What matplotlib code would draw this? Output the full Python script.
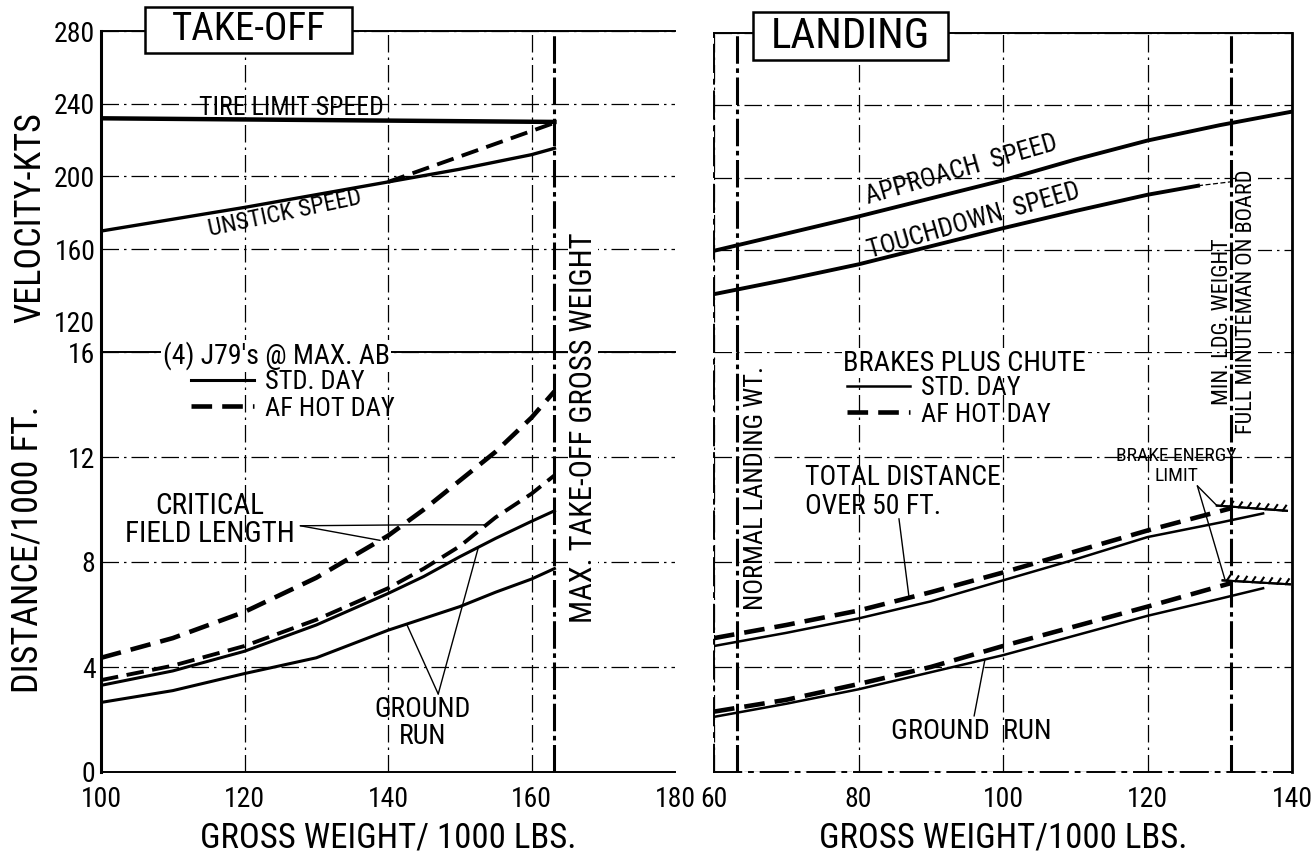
import numpy as np
import matplotlib.pyplot as plt
from matplotlib import patheffects
from matplotlib.patches import Rectangle

plt.rcParams['font.family'] = ['Roboto Condensed', 'DejaVu Sans']
plt.rcParams['font.stretch'] = 'condensed'

# ---------------- take-off ----------------
to_weight = [100, 110, 120, 130, 140, 150, 160, 163.2]
unstick_std = [170, 176.5, 183, 190, 197, 204, 212, 215.5]
hot_weight = [140, 150, 160, 163.2]
unstick_hot = [197, 211, 225, 229.5]
tire_weight = [100, 163.2]
tire_limit = [232, 230]

dist_weight = [100, 110, 120, 130, 140, 145, 150, 155, 160, 163.2]
cfl_hot = [4.35, 5.1, 6.1, 7.4, 9.0, 10.0, 11.1, 12.2, 13.5, 14.5]
run_hot = [3.5, 4.05, 4.8, 5.8, 7.0, 7.75, 8.6, 9.7, 10.6, 11.3]
cfl_std = [3.3, 3.85, 4.6, 5.6, 6.8, 7.45, 8.2, 8.9, 9.55, 9.95]
run_std = [2.65, 3.1, 3.75, 4.35, 5.4, 5.85, 6.3, 6.85, 7.35, 7.75]

max_takeoff = 163.2

# ---------------- landing ----------------
ldg_weight = [60, 70, 80, 90, 100, 110, 120, 130, 140]
approach = [159.5, 169, 178.5, 188.5, 198.5, 210, 220.5, 229, 236.5]
td_weight = [60, 70, 80, 90, 100, 110, 120, 127]
touchdown = [135.5, 143.5, 152, 162, 172, 181.5, 190.5, 195.5]
td_ext_weight = [127, 135.4]
touchdown_ext = [195.5, 199.5]

hot_ldg_weight = [60, 70, 80, 90, 100, 110, 120, 131.6]
total_hot = [5.1, 5.6, 6.15, 6.85, 7.6, 8.4, 9.2, 10.05]
ground_hot = [2.3, 2.75, 3.35, 4.0, 4.8, 5.55, 6.3, 7.2]
std_ldg_weight = [60, 70, 80, 90, 100, 110, 120, 130, 136]
total_std = [4.8, 5.3, 5.85, 6.5, 7.3, 8.1, 8.95, 9.5, 9.85]
ground_std = [2.1, 2.6, 3.15, 3.8, 4.45, 5.2, 5.95, 6.6, 7.0]

brake_weight_total = [129.6, 139.3]
brake_total = [10.15, 9.95]
brake_weight_ground = [130.4, 139.7]
brake_ground = [7.3, 7.15]

normal_landing = 63.2
min_landing = 131.6

W, H = 1312, 857
fig = plt.figure(figsize=(W / 100, H / 100), dpi=100)


def place(x0, y0, x1, y1):
    # pixel box (top-left origin) -> figure fraction rect
    return [x0 / W, 1 - y1 / H, (x1 - x0) / W, (y1 - y0) / H]


grid_ls = (0, (14, 4, 2, 4))
ref_ls = (0, (9, 1.5, 1.5, 1.5))
heavy_dash = (0, (4.5, 2.2))

ax_tv = fig.add_axes(place(101, 31, 675, 352))
ax_td = fig.add_axes(place(101, 352, 675, 772))
ax_lv = fig.add_axes(place(714, 33, 1292, 352))
ax_ld = fig.add_axes(place(714, 352, 1292, 772))

for ax in (ax_tv, ax_td):
    ax.set_xlim(100, 180)
    ax.set_xticks(range(100, 181, 20))
for ax in (ax_lv, ax_ld):
    ax.set_xlim(60, 140)
    ax.set_xticks(range(60, 141, 20))
for ax in (ax_tv, ax_lv):
    ax.set_ylim(103.5, 280)
    ax.set_yticks(range(120, 281, 40))
for ax in (ax_td, ax_ld):
    ax.set_ylim(0, 16)
    ax.set_yticks(range(0, 17, 4))

for ax in (ax_tv, ax_td, ax_lv, ax_ld):
    ax.grid(True, color='black', lw=0.9, ls=grid_ls)
    ax.set_axisbelow(True)
    ax.tick_params(length=0, labelsize=20, pad=4)
    ax.patch.set_alpha(0)
    for s in ax.spines.values():
        s.set_color('black')
        s.set_linewidth(1.4)

ax_tv.tick_params(labelbottom=False)
ax_lv.tick_params(labelbottom=False, labelleft=False)
ax_ld.tick_params(labelleft=False)
ax_td.tick_params(axis='x', pad=10)
ax_ld.tick_params(axis='x', pad=10)

ax_tv.spines[['bottom', 'right']].set_visible(False)
ax_td.spines['right'].set_visible(False)
ax_tv.spines['left'].set_linewidth(2.2)
ax_td.spines['left'].set_linewidth(2.2)
ax_lv.spines['bottom'].set_visible(False)
ax_ld.spines['top'].set_visible(False)
for ax in (ax_lv, ax_ld):
    ax.spines['left'].set_linestyle(grid_ls)
    ax.spines['right'].set_linewidth(2)
ax_ld.spines['bottom'].set_linestyle(grid_ls)

# drop gridlines that sit on the panel edges
ax_tv.get_xgridlines()[-1].set_visible(False)
ax_td.get_xgridlines()[-1].set_visible(False)
ax_tv.get_ygridlines()[0].set_visible(False)
ax_lv.get_ygridlines()[0].set_visible(False)

# ---- take-off velocities ----
ax_tv.plot(tire_weight, tire_limit, color='k', lw=3.2)
ax_tv.plot(to_weight, unstick_std, color='k', lw=2.4)
ax_tv.plot(hot_weight, unstick_hot, color='k', lw=2.8, ls=heavy_dash)
ax_tv.text(126.5, 237.5, 'TIRE LIMIT SPEED', fontsize=18.5, ha='center', va='center')
ax_tv.text(125.6, 179.5, 'UNSTICK SPEED', fontsize=17.5, ha='center', va='center',
           rotation=12)

# ---- take-off distances ----
l_hot, = ax_td.plot(dist_weight, cfl_hot, color='k', lw=3.3, ls=heavy_dash)
ax_td.plot(dist_weight, run_hot, color='k', lw=2.8, ls=heavy_dash)
l_std, = ax_td.plot(dist_weight, cfl_std, color='k', lw=2.2)
ax_td.plot(dist_weight, run_std, color='k', lw=2.2)

for ax in (ax_tv, ax_td):
    ax.axvline(max_takeoff, color='k', lw=2.2, ls=ref_ls)

ax_td.legend([l_std, l_hot], ['STD. DAY', 'AF HOT DAY'], loc='upper left',
             bbox_to_anchor=(0.157, 0.957), frameon=False, fontsize=19,
             handlelength=2.4, handletextpad=0.4, labelspacing=0.1,
             borderaxespad=0, borderpad=0)
ax_td.text(124.4, 15.85, "(4) J79's @ MAX. AB", fontsize=20, ha='center', va='center',
           bbox=dict(fc='white', ec='none', pad=1))

ax_td.text(115.2, 9.6, 'CRITICAL\nFIELD LENGTH', fontsize=21, ha='center', va='center',
           linespacing=1.0)
cfl_from = (127.8, 9.38)
ax_td.annotate('', xy=(138.9, np.interp(138.9, dist_weight, cfl_hot)), xytext=cfl_from,
               arrowprops=dict(arrowstyle='-', lw=1, color='k', shrinkA=0, shrinkB=0))
ax_td.plot([cfl_from[0], 145.1, 153.7],
           [cfl_from[1], 9.42, np.interp(153.7, dist_weight, run_hot)], color='k', lw=1)

ax_td.text(144.8, 1.85, 'GROUND\nRUN', fontsize=20, ha='center', va='center',
           linespacing=1.0)
run_from = (147.0, 2.97)
for wt, curve in ((142.6, run_std), (152.6, cfl_std)):
    ax_td.annotate('', xy=(wt, np.interp(wt, dist_weight, curve)), xytext=run_from,
                   arrowprops=dict(arrowstyle='-', lw=1, color='k', shrinkA=0, shrinkB=0))

# ---- landing velocities ----
ax_lv.plot(ldg_weight, approach, color='k', lw=2.8)
ax_lv.plot(td_weight, touchdown, color='k', lw=2.8)
ax_lv.plot(td_ext_weight, touchdown_ext, color='k', lw=0.9, ls=(0, (4, 2)))
ax_lv.text(94.3, 204, 'APPROACH  SPEED', fontsize=18.5, ha='center', va='center',
           rotation=16)
ax_lv.text(96, 176, 'TOUCHDOWN  SPEED', fontsize=18.5, ha='center', va='center',
           rotation=16)

# ---- landing distances ----
h_hot, = ax_ld.plot(hot_ldg_weight, total_hot, color='k', lw=3.3, ls=heavy_dash)
ax_ld.plot(hot_ldg_weight, ground_hot, color='k', lw=3.3, ls=heavy_dash)
h_std, = ax_ld.plot(std_ldg_weight, total_std, color='k', lw=1.8)
ax_ld.plot(std_ldg_weight, ground_std, color='k', lw=1.8)

ticked = [patheffects.withTickedStroke(angle=60, spacing=6, length=0.7),
          patheffects.Normal()]
ax_ld.plot(brake_weight_total, brake_total, color='k', lw=1.5, path_effects=ticked)
ax_ld.plot(brake_weight_ground, brake_ground, color='k', lw=1.5, path_effects=ticked)

for ax in (ax_lv, ax_ld):
    ax.axvline(normal_landing, color='k', lw=2.2, ls=ref_ls)
    ax.axvline(min_landing, color='k', lw=2.2, ls=ref_ls)

ax_ld.legend([h_std, h_hot], ['STD. DAY', 'AF HOT DAY'], loc='upper left',
             bbox_to_anchor=(0.230, 0.943), frameon=False, fontsize=19,
             handlelength=2.4, handletextpad=0.4, labelspacing=0.1,
             borderaxespad=0, borderpad=0)
ax_ld.text(94.7, 15.58, 'BRAKES PLUS CHUTE', fontsize=20.5, ha='center', va='center',
           bbox=dict(fc='white', ec='none', pad=1))

ax_ld.text(72.6, 10.65, 'TOTAL DISTANCE\nOVER 50 FT.', fontsize=20, ha='left', va='center',
           linespacing=1.1)
ax_ld.annotate('', xy=(87.0, np.interp(87.0, hot_ldg_weight, total_hot)), xytext=(85.6, 9.65),
               arrowprops=dict(arrowstyle='-', lw=1, color='k', shrinkA=0, shrinkB=0))

ax_ld.text(95.6, 1.55, 'GROUND  RUN', fontsize=20.5, ha='center', va='center')
ax_ld.annotate('', xy=(97.5, np.interp(97.5, std_ldg_weight, ground_std)), xytext=(96.0, 2.13),
               arrowprops=dict(arrowstyle='-', lw=1, color='k', shrinkA=0, shrinkB=0))

ax_ld.text(124.0, 11.65, 'BRAKE ENERGY\nLIMIT', fontsize=14, ha='center', va='center',
           linespacing=1.1)
for wt, val in ((brake_weight_total[0], brake_total[0]),
                (brake_weight_ground[0] + 0.3, brake_ground[0] + 0.05)):
    ax_ld.annotate('', xy=(wt, val), xytext=(126.9, 10.9),
                   arrowprops=dict(arrowstyle='-', lw=1, color='k', shrinkA=0, shrinkB=0))

# ---- axis titles and boxed panel names ----
fig.text(30 / W, 1 - 218 / H, 'VELOCITY-KTS', fontsize=26, rotation=90,
         ha='center', va='center')
fig.text(28 / W, 1 - 549 / H, 'DISTANCE/1000 FT.', fontsize=26, rotation=90,
         ha='center', va='center')
ax_td.set_xlabel('GROSS WEIGHT/ 1000 LBS.', fontsize=25, labelpad=6)
ax_ld.set_xlabel('GROSS WEIGHT/1000 LBS.', fontsize=25, labelpad=6)

fig.text(583 / W, 1 - 428 / H, 'MAX. TAKE-OFF GROSS WEIGHT', fontsize=22, rotation=90,
         ha='center', va='center', bbox=dict(fc='white', ec='none', pad=0.5))
fig.text(756 / W, 1 - 488 / H, 'NORMAL LANDING WT.', fontsize=19, rotation=90,
         ha='center', va='center', bbox=dict(fc='white', ec='none', pad=0.5))
fig.text(1222 / W, 1 - 322 / H, 'MIN. LDG. WEIGHT', fontsize=16, rotation=90,
         ha='center', va='center')
fig.text(1247 / W, 1 - 302 / H, 'FULL MINUTEMAN ON BOARD', fontsize=16, rotation=90,
         ha='center', va='center', bbox=dict(fc='white', ec='none', pad=0.5))

for (x0, y0, x1, y1), name, size in (((145, 7, 352, 53), 'TAKE-OFF', 28),
                                     ((753, 12, 948, 60), 'LANDING', 31)):
    fig.add_artist(Rectangle((x0 / W, 1 - y1 / H), (x1 - x0) / W, (y1 - y0) / H,
                             transform=fig.transFigure, fc='white', ec='black',
                             lw=1.8, zorder=5))
    fig.text((x0 + x1) / 2 / W, 1 - (y0 + y1) / 2 / H, name, fontsize=size,
             ha='center', va='center', zorder=6)

fig.savefig('out.png', dpi=100, facecolor='white')
